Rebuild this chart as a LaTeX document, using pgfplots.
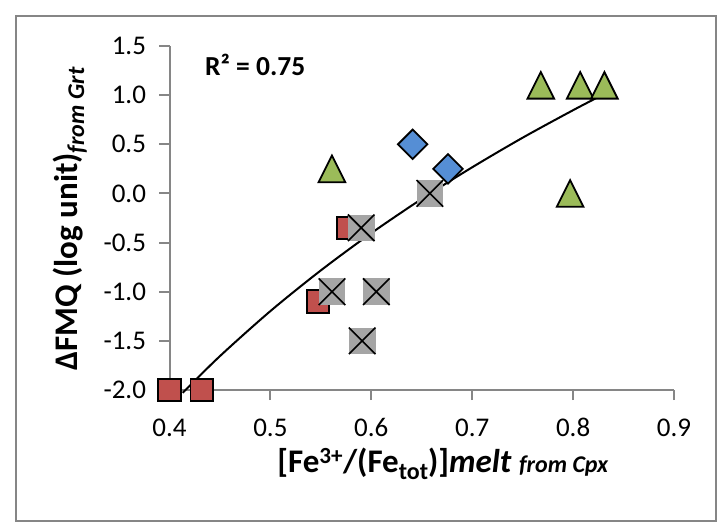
\documentclass[border=0pt]{standalone}
\usepackage{pgfplots}
\pgfplotsset{compat=1.18}
\usepackage{fontspec}
\setmainfont{Carlito}
\definecolor{exred}{HTML}{C0504D}
\definecolor{exgray}{HTML}{A5A5A5}
\definecolor{exblue}{HTML}{558ED5}
\definecolor{exgreen}{HTML}{9BBB59}
\definecolor{axgray}{HTML}{868686}
\pgfdeclareplotmark{bsq}{\pgfpathrectanglecorners{\pgfqpoint{-\pgfplotmarksize}{-\pgfplotmarksize}}{\pgfqpoint{\pgfplotmarksize}{\pgfplotmarksize}}\pgfusepathqfillstroke}
\pgfdeclareplotmark{bsqf}{\pgfpathrectanglecorners{\pgfqpoint{-\pgfplotmarksize}{-\pgfplotmarksize}}{\pgfqpoint{\pgfplotmarksize}{\pgfplotmarksize}}\pgfusepathqfill}
\pgfdeclareplotmark{bx}{\pgfpathmoveto{\pgfqpoint{-\pgfplotmarksize}{-\pgfplotmarksize}}\pgfpathlineto{\pgfqpoint{\pgfplotmarksize}{\pgfplotmarksize}}\pgfpathmoveto{\pgfqpoint{-\pgfplotmarksize}{\pgfplotmarksize}}\pgfpathlineto{\pgfqpoint{\pgfplotmarksize}{-\pgfplotmarksize}}\pgfusepathqstroke}
\pgfdeclareplotmark{bdia}{\pgfpathmoveto{\pgfqpoint{0pt}{\pgfplotmarksize}}\pgfpathlineto{\pgfqpoint{\pgfplotmarksize}{0pt}}\pgfpathlineto{\pgfqpoint{0pt}{-\pgfplotmarksize}}\pgfpathlineto{\pgfqpoint{-\pgfplotmarksize}{0pt}}\pgfpathclose\pgfusepathqfillstroke}
\pgfdeclareplotmark{btri}{\pgfpathmoveto{\pgfqpoint{0pt}{\pgfplotmarksize}}\pgfpathlineto{\pgfqpoint{\pgfplotmarksize}{-\pgfplotmarksize}}\pgfpathlineto{\pgfqpoint{-\pgfplotmarksize}{-\pgfplotmarksize}}\pgfpathclose\pgfusepathqfillstroke}
\begin{document}
\begin{tikzpicture}
\useasboundingbox (0,0) rectangle (725pt,-525pt);
\draw[axgray, line width=2pt] (16pt,-15.5pt) rectangle (716pt,-521pt);
\begin{axis}[
  at={(169.5pt,-390pt)}, anchor=south west,
  scale only axis, width=504.5pt, height=344pt,
  xmin=0.4, xmax=0.9, ymin=-2, ymax=1.5,
  clip=false,
  axis x line*=bottom, axis y line*=left,
  axis line style={axgray, line width=2pt, -},
  tick style={axgray, line width=2pt},
  major tick length=10pt, tick align=outside,
  xtick={0.4,0.5,0.6,0.7,0.8,0.9},
  xticklabels={0.4,0.5,0.6,0.7,0.8,0.9},
  ytick={-2,-1.5,-1,-0.5,0,0.5,1,1.5},
  yticklabels={-2.0,-1.5,-1.0,-0.5,0.0,0.5,1.0,1.5},
  ticklabel style={font=\fontsize{27}{30}\selectfont},
  xticklabel style={yshift=-15pt},
  yticklabel style={xshift=-10pt},
  xlabel={\textbf{[Fe\textsuperscript{3+}/(Fe\raisebox{-7pt}{\fontsize{24}{26}\selectfont tot})]\textit{melt} {\fontsize{24}{26}\selectfont\textit{from Cpx}}}},
  ylabel={\textbf{ΔFMQ (log unit)\raisebox{-7pt}{\fontsize{24}{26}\selectfont\textit{from Grt}}}},
  label style={font=\fontsize{33}{36}\selectfont},
  xlabel style={at={(axis description cs:0.542,-0.241)}, anchor=base},
  ylabel style={at={(axis description cs:-0.183,0.497)}, anchor=base},
]
\addplot[only marks, mark=bsq, mark size=11.2pt, mark options={fill=exred, draw=black, line width=1.8pt}] coordinates {
(0.400,-2.0) (0.432,-2.0) (0.547,-1.1) (0.577,-0.35)};
\addplot[only marks, mark=bsqf, mark size=13.3pt, mark options={fill=exgray}] coordinates {
(0.590,-0.35) (0.561,-1.0) (0.605,-1.0) (0.591,-1.5) (0.658,0.0)};
\addplot[only marks, mark=bx, mark size=13.3pt, mark options={draw=black, line width=1.6pt}] coordinates {
(0.590,-0.35) (0.561,-1.0) (0.605,-1.0) (0.591,-1.5) (0.658,0.0)};
\addplot[only marks, mark=bdia, mark size=14.7pt, mark options={fill=exblue, draw=black, line width=1.8pt}] coordinates {
(0.641,0.5) (0.676,0.25)};
\addplot[only marks, mark=btri, mark size=13.3pt, mark options={fill=exgreen, draw=black, line width=1.8pt}] coordinates {
(0.561,0.25) (0.768,1.1) (0.807,1.1) (0.831,1.1) (0.797,0.0)};
\addplot[black, line width=2pt, smooth, no marks] coordinates {
(0.413,-2.029) (0.45,-1.655) (0.5,-1.197) (0.55,-0.783) (0.6,-0.404) (0.65,-0.056) (0.7,0.266) (0.75,0.567) (0.8,0.847) (0.832,1.018)};
\node[font=\fontsize{27.5}{30}\selectfont\bfseries] at (axis cs:0.485,1.31) {R² = 0.75};
\end{axis}
\end{tikzpicture}
\end{document}
